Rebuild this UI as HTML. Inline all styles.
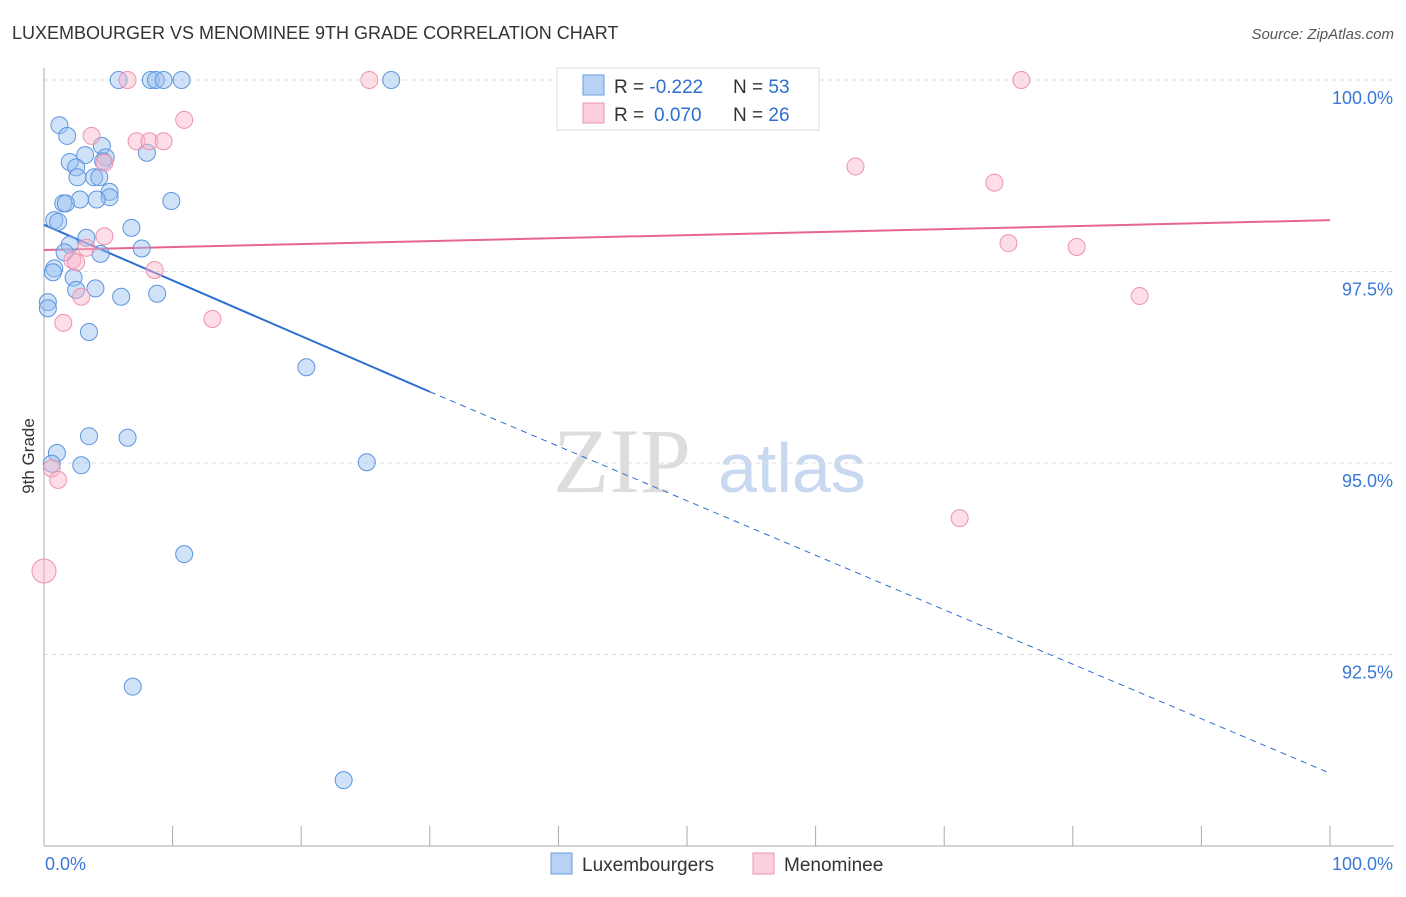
<!DOCTYPE html>
<html><head><meta charset="utf-8"><style>
body{margin:0;background:#fff;font-family:"Liberation Sans",sans-serif}
</style></head><body>
<svg id="c" width="1406" height="892" font-family="Liberation Sans, sans-serif">
<text x="12" y="39" font-size="18" fill="#333">LUXEMBOURGER VS MENOMINEE 9TH GRADE CORRELATION CHART</text>
<text x="1394" y="39" font-size="15" fill="#555" font-style="italic" text-anchor="end">Source: ZipAtlas.com</text>
<text x="34" y="456" font-size="17" fill="#333" text-anchor="middle" transform="rotate(-90 34 456)">9th Grade</text>
<g><text x="553" y="492" font-size="92" fill="#ddd" style="font-family:'Liberation Serif',serif">ZIP</text><text x="718" y="492" font-size="70" fill="#c8d8f0">atlas</text></g>
<g id="grid"></g><g id="trend"></g><g id="pts"></g>
<g>
<rect x="557" y="68" width="262" height="62" fill="#fff" stroke="#ddd"/>
<rect x="583" y="75" width="21" height="20" fill="#b8d2f4" stroke="#6a9ee0"/>
<rect x="583" y="103" width="21" height="20" fill="#fbd0dc" stroke="#ee93ae"/>
<text x="614" y="93" font-size="19" fill="#333">R = <tspan fill="#2c6fd1">-0.222</tspan><tspan x="733">N = </tspan><tspan fill="#2c6fd1">53</tspan></text>
<text x="614" y="121" font-size="19" fill="#333">R = <tspan fill="#2c6fd1" x="654">0.070</tspan><tspan x="733">N = </tspan><tspan fill="#2c6fd1">26</tspan></text>
</g>
<g>
<rect x="551" y="853" width="21" height="21" fill="#b8d2f4" stroke="#6a9ee0"/>
<text x="582" y="871" font-size="19" fill="#333">Luxembourgers</text>
<rect x="753" y="853" width="21" height="21" fill="#fbd0dc" stroke="#ee93ae"/>
<text x="784" y="871" font-size="19" fill="#333">Menominee</text>
</g>
</svg>
<script>
const yTicks=[100,97.5,95,92.5];
const yTickLabels=["100.0%","97.5%","95.0%","92.5%"];
const xTickLabels=["0.0%","100.0%"];
const luxX=[5.8,8.3,8.7,9.3,10.7,27,1.2,1.8,4.5,3.2,8,2,4.8,4.6,2.5,2.6,3.9,4.3,5.1,5.1,2.8,4.1,1.5,1.7,9.9,0.8,1.1,6.8,3.3,2,1.6,4.4,7.6,0.8,0.7,2.3,2.5,4,6,8.8,0.3,0.3,3.5,20.4,3.5,6.5,1,0.6,2.9,25.1,10.9,6.9,23.3];
const luxY=[100,100,100,100,100,100,99.41,99.27,99.14,99.02,99.05,98.93,98.99,98.94,98.86,98.73,98.73,98.73,98.54,98.47,98.44,98.44,98.39,98.39,98.42,98.17,98.15,98.07,97.94,97.85,97.75,97.73,97.8,97.54,97.49,97.42,97.26,97.28,97.17,97.21,97.1,97.02,96.71,96.25,95.35,95.33,95.13,94.99,94.97,95.01,93.81,92.08,90.86];
const menX=[6.5,25.3,76,10.9,3.7,7.2,8.2,9.3,4.7,63.1,73.9,4.7,3.3,2.2,75,80.3,2.5,8.6,2.9,85.2,1.5,13.1,0.6,1.1,71.2,0];
const menY=[100,100,100,99.48,99.27,99.2,99.2,99.2,98.92,98.87,98.66,97.96,97.81,97.65,97.87,97.82,97.62,97.52,97.17,97.18,96.83,96.88,94.93,94.78,94.28,93.59];
const luxTrend=[[0,98.11],[30,95.93],[100,90.95]];
const menTrend=[[0,97.78],[100,98.17]];
const X=v=>44+v*12.86, Y=v=>80+(100-v)*76.6;
const NS="http://www.w3.org/2000/svg";
function mk(t,a,p){const e=document.createElementNS(NS,t);for(const k in a)e.setAttribute(k,a[k]);p.appendChild(e);return e;}
const g=document.getElementById('grid');
yTicks.forEach((t,i)=>{const l=mk('line',{x1:44,x2:1394,y1:Y(t),y2:Y(t),stroke:'#ddd','stroke-dasharray':'4 4'},g);


const tx=mk('text',{x:1393,y:Y(t)+24,'font-size':18,fill:'#3a78d8','text-anchor':'end'},g);tx.textContent=yTickLabels[i];

});
const ax=mk('line',{x1:44,x2:44,y1:68,y2:846,stroke:'#aaa'},g);


const bx=mk('line',{x1:44,x2:1394,y1:846,y2:846,stroke:'#aaa'},g);


for(let i=0;i<=10;i++){const t=mk('line',{x1:X(i*10),x2:X(i*10),y1:826,y2:846,stroke:'#aaa'},g);

}
[[0,'start',45],[100,'end',1393]].forEach((d,i)=>{const t=mk('text',{x:d[2],y:870,'font-size':18,fill:'#3a78d8','text-anchor':d[1]},g);t.textContent=xTickLabels[i];

});
const tr=document.getElementById('trend');
const l1=mk('line',{x1:X(luxTrend[0][0]),y1:Y(luxTrend[0][1]),x2:X(luxTrend[1][0]),y2:Y(luxTrend[1][1]),stroke:'#2c6fd1','stroke-width':2},tr);


const l2=mk('line',{x1:X(luxTrend[1][0]),y1:Y(luxTrend[1][1]),x2:X(luxTrend[2][0]),y2:Y(luxTrend[2][1]),stroke:'#2c6fd1','stroke-width':1,'stroke-dasharray':'6 5'},tr);


const l3=mk('line',{x1:X(menTrend[0][0]),y1:Y(menTrend[0][1]),x2:X(menTrend[1][0]),y2:Y(menTrend[1][1]),stroke:'#e8668e','stroke-width':2},tr);


const p=document.getElementById('pts');
luxX.forEach((v,i)=>{const c=mk('circle',{cx:X(v),cy:Y(luxY[i]),r:8.5,fill:'rgba(150,190,240,0.45)',stroke:'#5d95e0','stroke-width':1},p);

});
menX.forEach((v,i)=>{const c=mk('circle',{cx:X(v),cy:Y(menY[i]),r:i==25?12:8.5,fill:'rgba(250,180,200,0.45)',stroke:'#ee93ae','stroke-width':1},p);

});
</script>
</body></html>
